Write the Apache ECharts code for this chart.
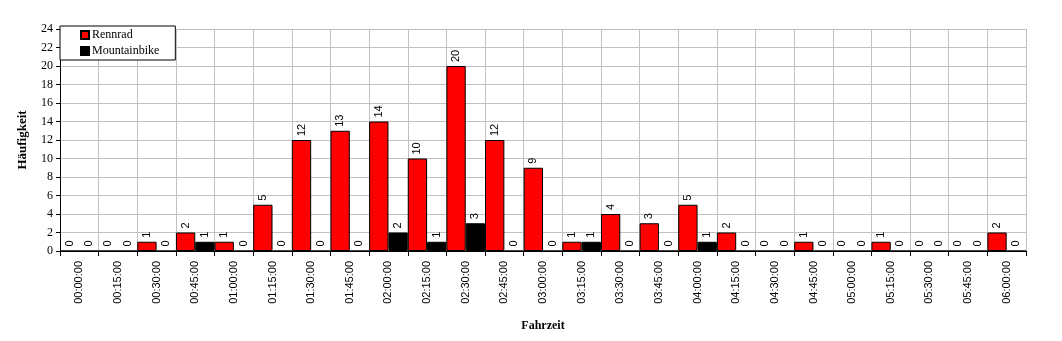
<!DOCTYPE html>
<html><head><meta charset="utf-8">
<script src="https://cdn.jsdelivr.net/npm/echarts@6/dist/echarts.min.js"></script>
<style>html,body{margin:0;padding:0;background:#fff}#c{width:1062px;height:341px}</style>
</head><body><div id="c"></div>
<script>
const categories = ["00:00:00","00:15:00","00:30:00","00:45:00","01:00:00","01:15:00","01:30:00","01:45:00","02:00:00","02:15:00","02:30:00","02:45:00","03:00:00","03:15:00","03:30:00","03:45:00","04:00:00","04:15:00","04:30:00","04:45:00","05:00:00","05:15:00","05:30:00","05:45:00","06:00:00"];
const rennrad = [0,0,1,2,1,5,12,13,14,10,20,12,9,1,4,3,5,2,0,1,0,1,0,0,2];
const mountainbike = [0,0,0,1,0,0,0,0,2,1,3,0,0,1,0,0,1,0,0,0,0,0,0,0,0];
const yTicks = {min:0, max:24, interval:2};

const chart = echarts.init(document.getElementById('c'), null, {renderer:'canvas'});
const lbl = {show:true, position:'top', rotate:90, align:'left', verticalAlign:'middle', distance:4,
  fontFamily:'Liberation Sans', fontSize:11, color:'#000'};
chart.setOption({
  animation:false,
  backgroundColor:'#fff',
  grid:{left:60, right:36, top:29, bottom:90},
  legend:{
    orient:'vertical', left:60, top:26, width:114,
    padding:[3,16,3,20], itemWidth:8, itemHeight:8, itemGap:4,
    backgroundColor:'#fff', borderColor:'#000', borderWidth:1,
    textStyle:{fontFamily:'Liberation Serif', fontSize:12, color:'#000', padding:[0,0,0,-2]},
    icon:'rect',
    data:['Rennrad','Mountainbike'], z:10
  },
  xAxis:{
    type:'category', data:categories, name:'Fahrzeit', nameLocation:'middle', nameGap:69,
    nameTextStyle:{fontFamily:'Liberation Serif', fontSize:12, fontWeight:'bold', color:'#000'},
    axisLine:{lineStyle:{color:'#000', width:1}},
    axisTick:{show:true, length:5, lineStyle:{color:'#000'}},
    axisLabel:{rotate:90, interval:0, margin:10, fontFamily:'Liberation Sans', fontSize:11, color:'#000'},
    splitLine:{show:true, interval:0, lineStyle:{color:'#c0c0c0', width:1}}
  },
  yAxis:{
    type:'value', min:yTicks.min, max:yTicks.max, interval:yTicks.interval,
    name:'Häufigkeit', nameLocation:'middle', nameGap:31,
    nameTextStyle:{fontFamily:'Liberation Serif', fontSize:13, fontWeight:'bold', color:'#000'},
    axisLine:{show:true, lineStyle:{color:'#000', width:1}},
    axisTick:{show:true, length:4, lineStyle:{color:'#000'}},
    axisLabel:{fontFamily:'Liberation Serif', fontSize:12, color:'#000', margin:7},
    splitLine:{show:true, lineStyle:{color:'#c0c0c0', width:1}}
  },
  series:[
    {name:'Rennrad', type:'bar', data:rennrad, barGap:'0%', barCategoryGap:'0%',
     itemStyle:{color:'#ff0000', borderColor:'#000', borderWidth:1}, label:lbl},
    {name:'Mountainbike', type:'bar', data:mountainbike, barGap:'0%', barCategoryGap:'0%',
     itemStyle:{color:'#000000', borderColor:'#000', borderWidth:1}, label:lbl}
  ]
});
</script></body></html>
